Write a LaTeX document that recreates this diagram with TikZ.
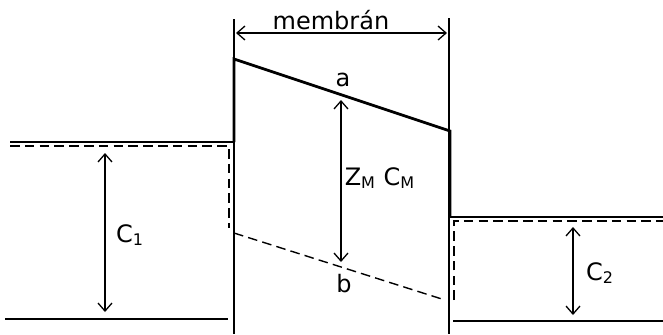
\documentclass[tikz,border=0pt]{standalone}
\usepackage{fontspec}
\setmainfont{DejaVu Sans}
\usetikzlibrary{arrows.meta}

\begin{document}
\begin{tikzpicture}[x=0.5pt, y=-0.5pt, >={Straight Barb[length=4pt,width=7pt]}, every node/.style={font=\fontsize{12}{14}\selectfont,inner sep=0pt,anchor=base},
  thinline/.style={line width=0.65pt}, levelline/.style={line width=1pt}, profline/.style={line width=1.4pt},
  dashline/.style={line width=0.7pt,dash pattern=on 4.8pt off 2.6pt}]
  \useasboundingbox (0,0) rectangle (663,334);
  % membrane walls and width
  \coordinate (wlt) at (234,19); \coordinate (wlb) at (234,334);
  \coordinate (wrt) at (449,18); \coordinate (wrb) at (449,334);
  \draw[thinline] (wlt)--(wlb); \draw[thinline] (wrt)--(wrb);
  \coordinate (ml) at (236,33); \coordinate (mr) at (447,33);
  \draw[thinline,<->] (ml)--(mr);
  \node (mem) at (331,29) {membrán};
  % solid profile
  \coordinate (l0) at (10,142); \coordinate (l1) at (234,142);
  \coordinate (pa) at (234,59); \coordinate (pb) at (450,131);
  \coordinate (r1) at (450,217); \coordinate (r0) at (663,217);
  \draw[levelline] (l0)--(l1); \draw[levelline] (r1)--(r0);
  \draw[profline,line join=miter] (l1)--(pa)--(pb)--(r1);
  % dashed profile
  \coordinate (d0) at (10,146); \coordinate (d1) at (229,146); \coordinate (d2) at (229,228);
  \coordinate (d3) at (234,233); \coordinate (d4) at (445,300);
  \coordinate (d5) at (454,300); \coordinate (d6) at (454,221); \coordinate (d7) at (663,221);
  \draw[dashline] (d0)--(d1)--(d2); \draw[dashline] (d3)--(d4); \draw[dashline] (d5)--(d6)--(d7);
  % bottom lines
  \coordinate (bl0) at (5,319); \coordinate (bl1) at (228,319);
  \coordinate (br0) at (453,321); \coordinate (br1) at (663,321);
  \draw[thinline] (bl0)--(bl1); \draw[thinline] (br0)--(br1);
  % concentrations
  \coordinate (c1t) at (105,153); \coordinate (c1b) at (105,312);
  \coordinate (cmt) at (341,100); \coordinate (cmb) at (341,262);
  \coordinate (c2t) at (573,227); \coordinate (c2b) at (573,315);
  \draw[thinline,<->] (c1t)--(c1b); \draw[thinline,<->] (cmt)--(cmb); \draw[thinline,<->] (c2t)--(c2b);
  \node (c1) at (130,242) {C\textsubscript{1}};
  \node (c2) at (600,280) {C\textsubscript{2}};
  \node (zc) at (380,185) {Z\textsubscript{M} C\textsubscript{M}};
  \node (a) at (343,86) {a};
  \node (b) at (344,292) {b};
\end{tikzpicture}
\end{document}
